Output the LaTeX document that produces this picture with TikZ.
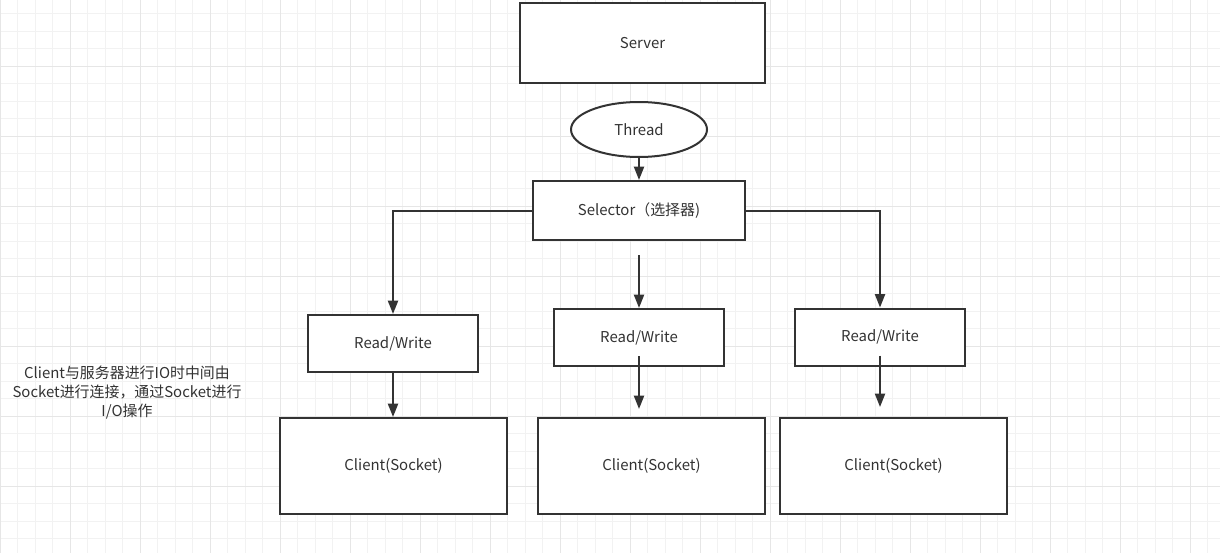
\documentclass[tikz,border=0pt]{standalone}
\usepackage{fontspec}
\setmainfont{Noto Sans CJK SC}
\usetikzlibrary{arrows.meta,positioning,calc,shapes.geometric}
\definecolor{ink}{HTML}{333333}
\definecolor{gridminor}{HTML}{F2F2F2}
\definecolor{gridmajor}{HTML}{E6E6E6}

\begin{document}
\begin{tikzpicture}[
  x=0.75pt, y=-0.75pt,
  font=\fontsize{11.2pt}{14pt}\selectfont,
  flow/.style={-{Triangle[length=10pt, width=7.5pt]}, line width=1.5pt, draw=ink},
  box/.style={draw=ink, line width=1.5pt, fill=white, text=ink, align=center},
  rwbox/.style={box, minimum width=127.5pt, minimum height=42.75pt},
  clientbox/.style={box, minimum width=170.25pt, minimum height=72pt},
  minorline/.style={draw=gridminor, line width=0.75pt},
  majorline/.style={draw=gridmajor, line width=0.75pt}
]
\useasboundingbox (0,0) rectangle (1220,553);
\fill[white] (0,0) rectangle (1220,553);

% canvas grid
\foreach \gx in {0,17.5,...,1220} \draw[minorline] (\gx,0) -- (\gx,553);
\foreach \gy in {-4,13.5,...,553} \draw[minorline] (0,\gy) -- (1220,\gy);
\foreach \gx in {0,70,...,1220} \draw[majorline] (\gx,0) -- (\gx,553);
\foreach \gy in {-4,66,...,553} \draw[majorline] (0,\gy) -- (1220,\gy);

% server side
\node[box, minimum width=183.75pt, minimum height=60pt] (server) at (642.5,43) {Server};
\node[box, ellipse, minimum width=102pt, minimum height=41.25pt, inner sep=0pt] (thread) at (639,129.5) {Thread};
\node[box, minimum width=159pt, minimum height=44.25pt] (selector) at (639,210.5) {Selector（选择器)};
\draw[flow] (thread.south) -- (selector.north);

% read/write channels
\node[rwbox] (rwL) at (393,343.5) {Read/Write};
\node[rwbox] (rwM) at (639,337.5) {Read/Write};
\node[rwbox] (rwR) at (880,337) {Read/Write};
\coordinate (midTop) at (639,255);
\draw[flow] (selector.west) -| (rwL.north);
\draw[flow] (midTop) -- (rwM.north);
\draw[flow] (selector.east) -| (rwR.north);

% clients
\node[clientbox] (clientL) at (393.5,466) {Client(Socket)};
\node[clientbox] (clientM) at (651.5,466) {Client(Socket)};
\node[clientbox] (clientR) at (893.5,466) {Client(Socket)};
\draw[flow] (rwL.south) -- (rwL.south |- clientL.north);
\draw[flow] ($(rwM.south)+(0,-11)$) -- ($(rwM.south |- clientM.north)+(0,-8)$);
\draw[flow] ($(rwR.south)+(0,-11)$) -- ($(rwR.south |- clientR.north)+(0,-10)$);

\node[text=ink, align=center] (note) at (127,392.5)
  {Client与服务器进行IO时中间由\\Socket进行连接，通过Socket进行\\I/O操作};

\end{tikzpicture}
\end{document}
